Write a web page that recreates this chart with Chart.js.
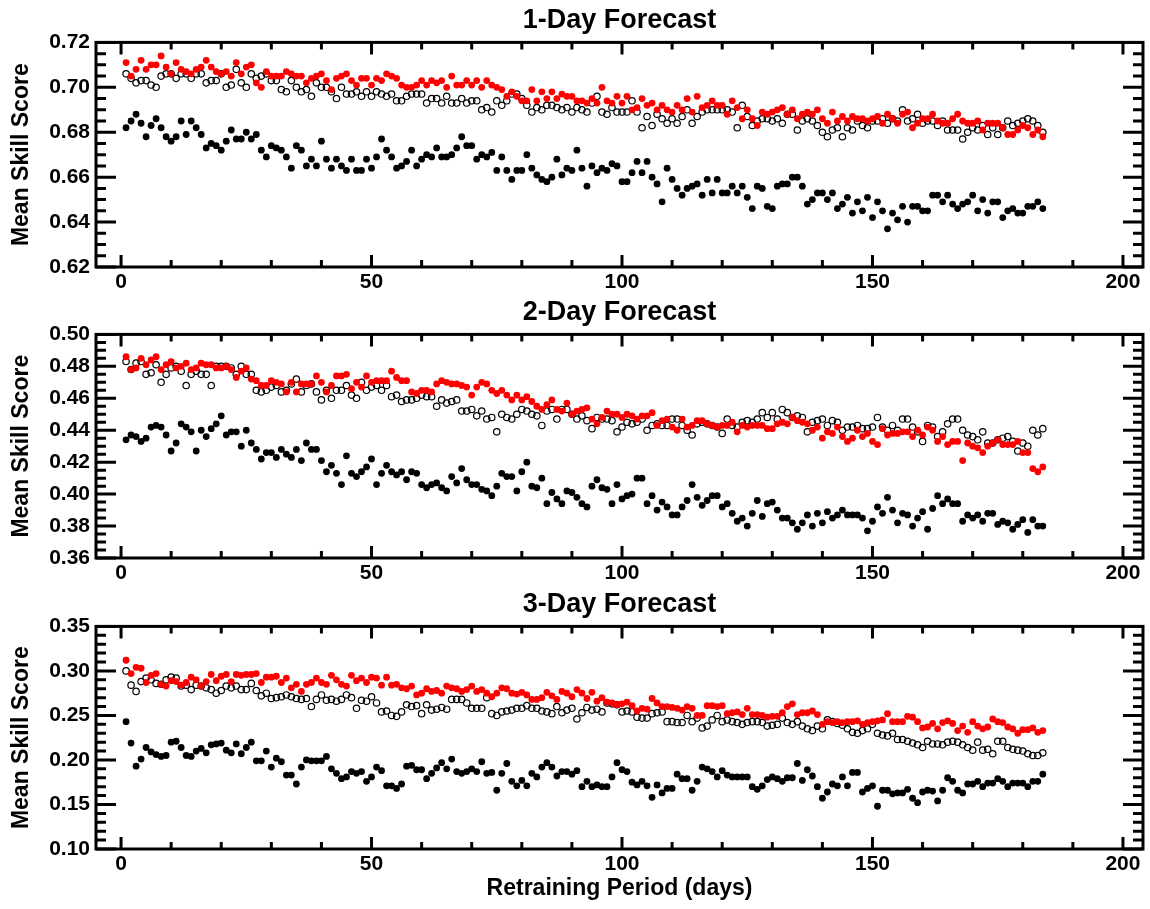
<!DOCTYPE html>
<html><head><meta charset="utf-8">
<script src="https://cdn.jsdelivr.net/npm/chart.js@4.4.1/dist/chart.umd.min.js"></script>
<style>
html,body{margin:0;padding:0;background:#fff;width:1150px;height:909px;overflow:hidden;}
canvas{position:absolute;left:0;}
</style></head><body>
<canvas id="c1" width="1150" height="296" style="top:0px"></canvas>
<canvas id="c2" width="1150" height="296" style="top:292px"></canvas>
<canvas id="c3" width="1150" height="325" style="top:584px"></canvas>
<script>
// ---- Data ----
const days = Array.from({length: 184}, (_, i) => i + 1);
const xTickLabels = [0, 50, 100, 150, 200];
const yTicks1 = [0.62, 0.64, 0.66, 0.68, 0.70, 0.72];
const yTicks2 = [0.36, 0.38, 0.40, 0.42, 0.44, 0.46, 0.48, 0.50];
const yTicks3 = [0.10, 0.15, 0.20, 0.25, 0.30, 0.35];

const red1 = [
0.711,0.705,0.708,0.712,0.708,0.710,0.710,0.714,0.709,0.706,
0.711,0.708,0.707,0.706,0.708,0.709,0.712,0.709,0.707,0.706,
0.707,0.705,0.711,0.706,0.709,0.710,0.702,0.700,0.707,0.705,
0.705,0.705,0.707,0.706,0.705,0.705,0.702,0.704,0.705,0.706,
0.703,0.699,0.704,0.705,0.706,0.703,0.701,0.704,0.704,0.701,
0.704,0.703,0.706,0.705,0.704,0.701,0.700,0.700,0.701,0.703,
0.701,0.703,0.702,0.703,0.700,0.705,0.701,0.701,0.703,0.701,
0.703,0.700,0.703,0.701,0.700,0.699,0.696,0.698,0.696,0.694,
0.694,0.699,0.694,0.698,0.695,0.698,0.695,0.697,0.696,0.696,
0.694,0.694,0.693,0.695,0.693,0.700,0.694,0.693,0.696,0.693,
0.696,0.690,0.691,0.695,0.692,0.693,0.690,0.692,0.690,0.689,
0.692,0.690,0.695,0.689,0.696,0.691,0.692,0.694,0.692,0.692,
0.688,0.694,0.691,0.686,0.690,0.686,0.683,0.689,0.688,0.689,
0.690,0.691,0.688,0.690,0.686,0.688,0.689,0.688,0.690,0.686,
0.684,0.689,0.685,0.687,0.685,0.687,0.686,0.686,0.685,0.686,
0.687,0.684,0.688,0.686,0.684,0.688,0.689,0.682,0.684,0.686,
0.686,0.688,0.685,0.684,0.684,0.686,0.688,0.685,0.684,0.684,
0.685,0.681,0.684,0.684,0.684,0.682,0.679,0.679,0.681,0.683,
0.682,0.679,0.681,0.678];
const open1 = [
0.706,0.704,0.702,0.703,0.703,0.701,0.700,0.705,0.706,0.706,
0.704,0.706,0.706,0.704,0.706,0.706,0.702,0.703,0.703,0.706,
0.700,0.701,0.708,0.702,0.700,0.706,0.704,0.705,0.706,0.703,
0.703,0.699,0.698,0.703,0.700,0.698,0.699,0.696,0.702,0.700,
0.700,0.698,0.695,0.700,0.697,0.697,0.698,0.696,0.698,0.696,
0.698,0.697,0.696,0.697,0.694,0.694,0.696,0.697,0.697,0.697,
0.693,0.695,0.695,0.693,0.696,0.693,0.693,0.695,0.693,0.694,
0.694,0.690,0.691,0.689,0.694,0.692,0.694,0.697,0.697,0.695,
0.692,0.689,0.691,0.690,0.692,0.692,0.691,0.690,0.691,0.689,
0.691,0.690,0.689,0.693,0.696,0.689,0.688,0.691,0.689,0.689,
0.689,0.694,0.689,0.682,0.687,0.683,0.688,0.686,0.684,0.686,
0.684,0.687,0.690,0.684,0.687,0.689,0.690,0.690,0.690,0.690,
0.690,0.689,0.682,0.692,0.687,0.683,0.685,0.686,0.686,0.685,
0.686,0.684,0.688,0.688,0.681,0.685,0.686,0.685,0.683,0.680,
0.678,0.681,0.682,0.678,0.682,0.681,0.685,0.683,0.682,0.685,
0.685,0.686,0.684,0.686,0.685,0.690,0.685,0.686,0.688,0.684,
0.685,0.685,0.683,0.685,0.681,0.681,0.681,0.677,0.680,0.682,
0.681,0.683,0.679,0.682,0.679,0.682,0.685,0.683,0.684,0.685,
0.686,0.685,0.683,0.680];
const black1 = [
0.682,0.685,0.688,0.684,0.678,0.683,0.686,0.682,0.678,0.676,
0.678,0.685,0.679,0.685,0.682,0.679,0.673,0.675,0.674,0.672,
0.676,0.681,0.677,0.677,0.680,0.677,0.679,0.672,0.669,0.674,
0.673,0.672,0.669,0.664,0.674,0.672,0.665,0.668,0.665,0.676,
0.668,0.664,0.668,0.665,0.663,0.668,0.663,0.663,0.668,0.664,
0.669,0.677,0.672,0.669,0.664,0.665,0.667,0.672,0.665,0.668,
0.670,0.669,0.673,0.669,0.669,0.670,0.673,0.678,0.674,0.674,
0.668,0.670,0.669,0.671,0.663,0.669,0.663,0.659,0.663,0.663,
0.670,0.664,0.661,0.659,0.658,0.660,0.668,0.661,0.664,0.663,
0.672,0.664,0.656,0.665,0.662,0.664,0.663,0.666,0.665,0.658,
0.658,0.662,0.667,0.662,0.667,0.660,0.657,0.649,0.664,0.659,
0.655,0.652,0.655,0.656,0.657,0.652,0.659,0.653,0.659,0.653,
0.653,0.656,0.653,0.656,0.651,0.646,0.656,0.655,0.647,0.646,
0.656,0.657,0.657,0.660,0.660,0.656,0.648,0.650,0.653,0.653,
0.650,0.653,0.646,0.648,0.651,0.644,0.649,0.645,0.651,0.642,
0.649,0.645,0.637,0.644,0.641,0.647,0.640,0.647,0.647,0.645,
0.645,0.652,0.652,0.649,0.652,0.648,0.646,0.648,0.649,0.652,
0.645,0.650,0.644,0.649,0.649,0.642,0.645,0.646,0.644,0.644,
0.647,0.647,0.649,0.646];

const red2 = [
0.486,0.478,0.479,0.485,0.481,0.484,0.486,0.478,0.481,0.483,
0.479,0.480,0.482,0.478,0.479,0.482,0.481,0.481,0.479,0.479,
0.480,0.478,0.473,0.477,0.479,0.472,0.471,0.468,0.468,0.471,
0.470,0.469,0.464,0.470,0.464,0.469,0.469,0.469,0.474,0.470,
0.464,0.468,0.474,0.474,0.475,0.466,0.470,0.467,0.474,0.470,
0.471,0.471,0.471,0.477,0.473,0.471,0.471,0.464,0.463,0.465,
0.465,0.464,0.469,0.471,0.470,0.469,0.469,0.468,0.467,0.462,
0.467,0.470,0.469,0.465,0.463,0.465,0.462,0.459,0.462,0.459,
0.461,0.458,0.455,0.453,0.456,0.459,0.453,0.452,0.457,0.450,
0.452,0.453,0.454,0.447,0.444,0.448,0.452,0.450,0.450,0.448,
0.450,0.449,0.447,0.449,0.449,0.451,0.443,0.446,0.447,0.442,
0.440,0.447,0.442,0.443,0.446,0.446,0.444,0.443,0.442,0.443,
0.443,0.445,0.439,0.443,0.442,0.443,0.443,0.443,0.441,0.441,
0.444,0.445,0.444,0.448,0.446,0.445,0.444,0.440,0.442,0.435,
0.439,0.438,0.442,0.436,0.433,0.435,0.440,0.436,0.438,0.433,
0.431,0.441,0.437,0.438,0.438,0.439,0.439,0.436,0.440,0.437,
0.442,0.440,0.433,0.436,0.431,0.433,0.433,0.421,0.432,0.430,
0.429,0.426,0.430,0.432,0.434,0.431,0.431,0.431,0.433,0.426,
0.426,0.416,0.414,0.417];
const open2 = [
0.483,0.478,0.482,0.483,0.475,0.476,0.481,0.470,0.475,0.479,
0.480,0.477,0.468,0.475,0.477,0.475,0.475,0.468,0.480,0.480,
0.480,0.479,0.475,0.480,0.475,0.475,0.465,0.464,0.465,0.467,
0.468,0.464,0.465,0.469,0.472,0.464,0.468,0.469,0.464,0.459,
0.465,0.460,0.465,0.465,0.468,0.462,0.460,0.470,0.465,0.467,
0.468,0.465,0.468,0.461,0.462,0.458,0.459,0.459,0.460,0.462,
0.461,0.461,0.455,0.459,0.457,0.458,0.459,0.452,0.452,0.453,
0.449,0.452,0.447,0.448,0.439,0.450,0.448,0.447,0.450,0.453,
0.452,0.450,0.449,0.443,0.452,0.453,0.447,0.453,0.453,0.450,
0.447,0.449,0.446,0.441,0.448,0.447,0.447,0.446,0.439,0.442,
0.445,0.444,0.445,0.447,0.440,0.443,0.444,0.443,0.443,0.447,
0.447,0.443,0.440,0.437,0.444,0.445,0.444,0.443,0.442,0.438,
0.447,0.443,0.442,0.445,0.446,0.445,0.447,0.451,0.448,0.451,
0.447,0.453,0.451,0.448,0.449,0.448,0.439,0.445,0.446,0.447,
0.443,0.446,0.445,0.440,0.442,0.442,0.443,0.441,0.441,0.442,
0.448,0.442,0.440,0.443,0.440,0.447,0.447,0.442,0.439,0.433,
0.443,0.442,0.436,0.439,0.444,0.447,0.447,0.440,0.437,0.436,
0.434,0.439,0.432,0.432,0.434,0.435,0.436,0.433,0.427,0.432,
0.430,0.440,0.437,0.441];
const black2 = [
0.434,0.437,0.436,0.433,0.435,0.442,0.443,0.442,0.437,0.427,
0.432,0.444,0.442,0.439,0.427,0.440,0.436,0.441,0.444,0.449,
0.437,0.439,0.439,0.430,0.440,0.432,0.428,0.422,0.426,0.426,
0.423,0.428,0.425,0.423,0.428,0.421,0.432,0.428,0.428,0.421,
0.414,0.418,0.413,0.406,0.424,0.413,0.411,0.414,0.417,0.422,
0.406,0.413,0.418,0.414,0.412,0.414,0.409,0.414,0.413,0.406,
0.404,0.406,0.407,0.404,0.402,0.411,0.407,0.416,0.409,0.406,
0.406,0.403,0.402,0.399,0.405,0.413,0.411,0.411,0.402,0.414,
0.420,0.405,0.404,0.410,0.394,0.401,0.397,0.394,0.402,0.401,
0.398,0.394,0.392,0.405,0.409,0.404,0.403,0.394,0.406,0.397,
0.399,0.400,0.410,0.410,0.394,0.399,0.390,0.395,0.392,0.387,
0.387,0.392,0.396,0.406,0.398,0.393,0.396,0.399,0.399,0.392,
0.394,0.388,0.383,0.385,0.380,0.388,0.396,0.386,0.394,0.395,
0.390,0.385,0.385,0.382,0.378,0.382,0.387,0.380,0.388,0.382,
0.389,0.385,0.387,0.390,0.387,0.387,0.387,0.385,0.377,0.383,
0.392,0.388,0.398,0.390,0.382,0.388,0.387,0.380,0.385,0.389,
0.378,0.391,0.399,0.394,0.397,0.394,0.394,0.383,0.387,0.385,
0.387,0.383,0.388,0.388,0.381,0.383,0.382,0.378,0.381,0.384,
0.376,0.384,0.380,0.380];

const red3 = [
0.312,0.297,0.304,0.303,0.287,0.295,0.297,0.285,0.283,0.289,
0.288,0.284,0.287,0.293,0.290,0.283,0.288,0.296,0.289,0.294,
0.296,0.288,0.296,0.295,0.296,0.296,0.297,0.287,0.293,0.293,
0.294,0.287,0.292,0.281,0.285,0.277,0.285,0.287,0.292,0.287,
0.285,0.295,0.290,0.285,0.283,0.295,0.289,0.292,0.287,0.293,
0.292,0.284,0.293,0.284,0.285,0.281,0.280,0.283,0.273,0.275,
0.280,0.277,0.278,0.275,0.283,0.281,0.280,0.277,0.279,0.283,
0.277,0.279,0.275,0.271,0.275,0.281,0.280,0.275,0.274,0.276,
0.273,0.268,0.268,0.270,0.276,0.272,0.268,0.277,0.275,0.271,
0.279,0.275,0.269,0.276,0.266,0.270,0.265,0.264,0.262,0.263,
0.265,0.261,0.255,0.258,0.257,0.269,0.264,0.260,0.260,0.259,
0.258,0.256,0.260,0.258,0.250,0.250,0.261,0.261,0.260,0.261,
0.252,0.253,0.254,0.251,0.258,0.251,0.251,0.250,0.248,0.249,
0.249,0.253,0.260,0.263,0.251,0.253,0.253,0.255,0.251,0.240,
0.243,0.242,0.243,0.242,0.243,0.243,0.244,0.240,0.242,0.243,
0.244,0.245,0.252,0.243,0.243,0.243,0.249,0.248,0.243,0.236,
0.237,0.241,0.235,0.242,0.244,0.241,0.233,0.238,0.231,0.243,
0.238,0.235,0.237,0.246,0.243,0.242,0.237,0.235,0.230,0.234,
0.234,0.236,0.231,0.233];
const open3 = [
0.300,0.284,0.277,0.288,0.292,0.290,0.286,0.285,0.290,0.293,
0.292,0.283,0.284,0.279,0.284,0.283,0.281,0.279,0.275,0.278,
0.283,0.281,0.283,0.279,0.279,0.286,0.278,0.272,0.275,0.269,
0.270,0.271,0.273,0.271,0.269,0.268,0.269,0.260,0.268,0.273,
0.267,0.268,0.266,0.268,0.273,0.270,0.258,0.267,0.266,0.271,
0.264,0.254,0.255,0.250,0.249,0.254,0.262,0.260,0.261,0.252,
0.262,0.256,0.257,0.259,0.257,0.268,0.268,0.268,0.264,0.258,
0.258,0.258,0.270,0.252,0.250,0.254,0.255,0.256,0.258,0.258,
0.261,0.258,0.258,0.255,0.254,0.252,0.260,0.253,0.256,0.258,
0.246,0.253,0.259,0.256,0.257,0.254,0.264,0.263,0.262,0.254,
0.255,0.254,0.248,0.247,0.247,0.252,0.253,0.254,0.243,0.243,
0.242,0.242,0.250,0.243,0.247,0.236,0.238,0.245,0.250,0.243,
0.245,0.243,0.242,0.240,0.242,0.243,0.243,0.242,0.238,0.239,
0.240,0.247,0.242,0.240,0.243,0.238,0.235,0.233,0.238,0.235,
0.245,0.243,0.241,0.239,0.235,0.231,0.230,0.233,0.235,0.240,
0.230,0.228,0.227,0.230,0.223,0.223,0.221,0.219,0.217,0.214,
0.221,0.218,0.218,0.217,0.220,0.221,0.220,0.217,0.214,0.211,
0.220,0.211,0.212,0.207,0.221,0.221,0.214,0.212,0.211,0.210,
0.207,0.205,0.205,0.208];
const black3 = [
0.243,0.219,0.193,0.201,0.214,0.209,0.206,0.204,0.205,0.220,
0.221,0.214,0.205,0.204,0.210,0.213,0.208,0.217,0.218,0.219,
0.211,0.208,0.218,0.207,0.214,0.220,0.199,0.199,0.210,0.192,
0.202,0.198,0.183,0.183,0.173,0.192,0.200,0.199,0.199,0.199,
0.204,0.190,0.185,0.179,0.181,0.187,0.185,0.187,0.176,0.181,
0.192,0.188,0.171,0.171,0.168,0.173,0.193,0.194,0.189,0.189,
0.179,0.185,0.191,0.197,0.190,0.201,0.187,0.185,0.187,0.190,
0.187,0.198,0.185,0.186,0.166,0.185,0.196,0.176,0.171,0.177,
0.171,0.185,0.181,0.192,0.197,0.192,0.182,0.187,0.187,0.184,
0.188,0.170,0.176,0.170,0.172,0.170,0.170,0.181,0.197,0.189,
0.187,0.175,0.172,0.176,0.171,0.158,0.172,0.163,0.168,0.168,
0.184,0.179,0.179,0.166,0.176,0.192,0.190,0.187,0.181,0.188,
0.183,0.181,0.181,0.181,0.181,0.170,0.167,0.171,0.178,0.181,
0.179,0.176,0.180,0.180,0.196,0.177,0.189,0.182,0.170,0.157,
0.164,0.173,0.171,0.181,0.171,0.186,0.186,0.164,0.168,0.171,
0.148,0.166,0.166,0.162,0.163,0.163,0.167,0.157,0.152,0.164,
0.166,0.165,0.154,0.166,0.180,0.176,0.166,0.163,0.173,0.173,
0.176,0.170,0.174,0.174,0.179,0.176,0.170,0.174,0.174,0.174,
0.170,0.176,0.176,0.184];

// ---- Rendering ----
const FONT = '"Liberation Sans", Arial, Helvetica, sans-serif';
Chart.defaults.font.family = FONT;

function stepValues(min, max, step, exclude) {
  const out = [];
  const n = Math.round((max - min) / step);
  for (let k = 0; k <= n; k++) {
    const v = Math.round((min + k * step) * 10000) / 10000;
    if (!exclude.some(e => Math.abs(e - v) < 1e-9)) out.push(v);
  }
  return out;
}

const frameTicks = {
  id: 'frameTicks',
  afterDraw(chart, args, o) {
    const {ctx, chartArea: a, scales: {x, y}} = chart;
    ctx.save();
    ctx.strokeStyle = '#000';
    ctx.lineWidth = 3;
    ctx.beginPath();
    for (const v of o.xMajor) {
      const p = x.getPixelForValue(v);
      ctx.moveTo(p, a.bottom); ctx.lineTo(p, a.bottom - 12);
      ctx.moveTo(p, a.top); ctx.lineTo(p, a.top + 12);
    }
    for (const v of o.xMinor) {
      const p = x.getPixelForValue(v);
      ctx.moveTo(p, a.bottom); ctx.lineTo(p, a.bottom - 7);
      ctx.moveTo(p, a.top); ctx.lineTo(p, a.top + 7);
    }
    for (const v of o.yMajor) {
      const p = y.getPixelForValue(v);
      ctx.moveTo(a.left, p); ctx.lineTo(a.left + 20, p);
      ctx.moveTo(a.right, p); ctx.lineTo(a.right - 20, p);
    }
    for (const v of o.yMinor) {
      const p = y.getPixelForValue(v);
      ctx.moveTo(a.left, p); ctx.lineTo(a.left + 10, p);
      ctx.moveTo(a.right, p); ctx.lineTo(a.right - 10, p);
    }
    ctx.stroke();
    ctx.strokeRect(a.left, a.top, a.right - a.left, a.bottom - a.top);
    ctx.restore();
  }
};

function makeChart(id, cfg) {
  const pts = arr => arr.map((v, i) => ({x: days[i], y: v}));
  const xMinor = stepValues(0, 200, 10, xTickLabels);
  const yMinor = stepValues(cfg.yTicks[0], cfg.yTicks[cfg.yTicks.length - 1], cfg.yMinorStep, cfg.yTicks);
  return new Chart(document.getElementById(id), {
    type: 'scatter',
    data: {datasets: [
      {label: 'red', data: pts(cfg.red), pointRadius: 3.4, pointBackgroundColor: '#ff0000', pointBorderColor: '#ff0000', pointBorderWidth: 0, order: 0},
      {label: 'open', data: pts(cfg.open), pointRadius: 3.2, pointBackgroundColor: 'rgba(0,0,0,0)', pointBorderColor: '#000', pointBorderWidth: 1.2, order: 1},
      {label: 'black', data: pts(cfg.black), pointRadius: 3.4, pointBackgroundColor: '#000', pointBorderColor: '#000', pointBorderWidth: 0, order: 2}
    ]},
    options: {
      responsive: false, animation: false, devicePixelRatio: 1, events: [],
      layout: {padding: {left: 0, right: 7, top: 0, bottom: 0}},
      plugins: {
        legend: {display: false}, tooltip: {enabled: false},
        title: {display: true, fullSize: false, text: cfg.title, color: '#000', font: {family: FONT, size: 27, weight: 'bold'}, padding: {top: 4, bottom: 6}},
        frameTicks: {xMajor: xTickLabels, xMinor: xMinor, yMajor: cfg.yTicks, yMinor: yMinor}
      },
      scales: {
        x: {
          type: 'linear', min: -5, max: 204,
          grid: {display: false, drawTicks: false}, border: {display: false},
          afterBuildTicks: s => { s.ticks = xTickLabels.map(v => ({value: v})); },
          afterFit: s => { s.height = cfg.xh; },
          ticks: {color: '#000', font: {family: FONT, size: 21, weight: 'bold'}, padding: 3, maxRotation: 0, autoSkip: false, callback: v => String(v)},
          title: cfg.xTitle ? {display: true, text: cfg.xTitle, color: '#000', font: {family: FONT, size: 23, weight: 'bold'}, padding: {top: 0, bottom: 7}} : {display: false}
        },
        y: {
          type: 'linear', min: cfg.yTicks[0], max: cfg.yTicks[cfg.yTicks.length - 1],
          grid: {display: false, drawTicks: false}, border: {display: false},
          afterBuildTicks: s => { s.ticks = cfg.yTicks.map(v => ({value: v})); },
          afterFit: s => { s.width = 96; },
          ticks: {color: '#000', font: {family: FONT, size: 21, weight: 'bold'}, padding: 6, autoSkip: false, callback: v => Number(v).toFixed(2)},
          title: {display: true, text: 'Mean Skill Score', color: '#000', font: {family: FONT, size: 23, weight: 'bold'}, padding: {top: 8, bottom: 0}}
        }
      }
    },
    plugins: [frameTicks]
  });
}

makeChart('c1', {title: '1-Day Forecast', red: red1, open: open1, black: black1, yTicks: yTicks1, yMinorStep: 0.005, xh: 29});
makeChart('c2', {title: '2-Day Forecast', red: red2, open: open2, black: black2, yTicks: yTicks2, yMinorStep: 0.005, xh: 30});
makeChart('c3', {title: '3-Day Forecast', red: red3, open: open3, black: black3, yTicks: yTicks3, yMinorStep: 0.01, xh: 60, xTitle: 'Retraining Period (days)'});
</script>
</body></html>
